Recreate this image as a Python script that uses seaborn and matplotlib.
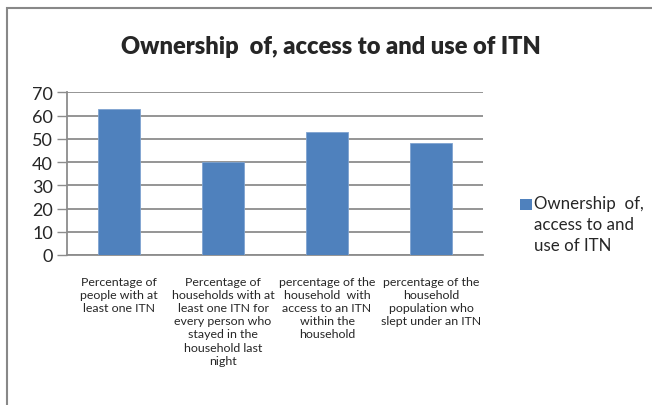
import matplotlib
matplotlib.use("Agg")
import matplotlib.pyplot as plt
from matplotlib.patches import Rectangle
from matplotlib.ticker import FixedLocator
import seaborn as sns
import pandas as pd

categories = [
    "Percentage of\npeople with at\nleast one ITN",
    "Percentage of\nhouseholds with at\nleast one ITN for\nevery person who\nstayed in the\nhousehold last\nnight",
    "percentage of the\nhousehold  with\naccess to an ITN\nwithin the\nhousehold",
    "percentage of the\nhousehold\npopulation who\nslept under an ITN",
]
values = [63, 40, 53, 48]
series_name = "Ownership  of,\naccess to and\nuse of ITN"
title = "Ownership  of, access to and use of ITN"
y_ticks = [0, 10, 20, 30, 40, 50, 60, 70]

sns.set_style("white")
plt.rcParams["font.family"] = ["Lato", "DejaVu Sans"]

bar_color = "#4F81BD"
grid_color = "#8C8C8C"

df = pd.DataFrame({"category": categories, "value": values})

fig = plt.figure(figsize=(6.52, 4.06), dpi=100)
ax = fig.add_axes([67 / 652, 1 - 256 / 406, (483 - 67) / 652, (256 - 93.3) / 406])

sns.barplot(data=df, x="category", y="value", color=bar_color, width=0.4,
            saturation=1, edgecolor="#7FA3D0", linewidth=0.6, ax=ax, zorder=3)

ax.set_ylim(0, 70)
ax.set_xlim(-0.5, len(categories) - 0.5)
ax.set_yticks(y_ticks)
ax.set_yticklabels([str(t) for t in y_ticks], fontsize=13)
ax.yaxis.grid(True, color=grid_color, linewidth=1.3, zorder=0)
ax.set_axisbelow(True)

ax.set_xlabel("")
ax.set_ylabel("")
ax.tick_params(axis="x", which="major", length=0, pad=15, labelsize=8.9)
for lbl in ax.get_xticklabels():
    lbl.set_verticalalignment("top")
    lbl.set_multialignment("center")
    lbl.set_linespacing(1.24)

# category boundary ticks along the bottom axis
ax.xaxis.set_minor_locator(FixedLocator([i - 0.5 for i in range(len(categories) + 1)]))
ax.tick_params(axis="x", which="minor", length=5, width=1, color=grid_color)
ax.tick_params(axis="y", which="major", length=7, width=1, color=grid_color, left=True, pad=3)

for side in ["top", "right"]:
    ax.spines[side].set_visible(False)
ax.spines["left"].set_color(grid_color)
ax.spines["bottom"].set_color(grid_color)
ax.spines["left"].set_linewidth(1.3)
ax.spines["bottom"].set_linewidth(1.3)

fig.text(331 / 652, 1 - 47 / 406, title, ha="center", va="center",
         fontsize=17, fontweight="heavy")

# legend: swatch beside the first line of the series name
fig.add_artist(Rectangle((520 / 652, 1 - 211 / 406), 12 / 652, 11 / 406,
                         transform=fig.transFigure, facecolor=bar_color, edgecolor="none"))
fig.text(534 / 652, 1 - 196 / 406, series_name, ha="left", va="top",
         fontsize=12.2, linespacing=1.38)

# chart-area frame
fig.add_artist(Rectangle((7 / 652, -0.1), 1.2, 0.1 + (1 - 9 / 406), transform=fig.transFigure,
                         fill=False, edgecolor="#888888", linewidth=1.5, clip_on=False))

fig.savefig("out.png", dpi=100)
